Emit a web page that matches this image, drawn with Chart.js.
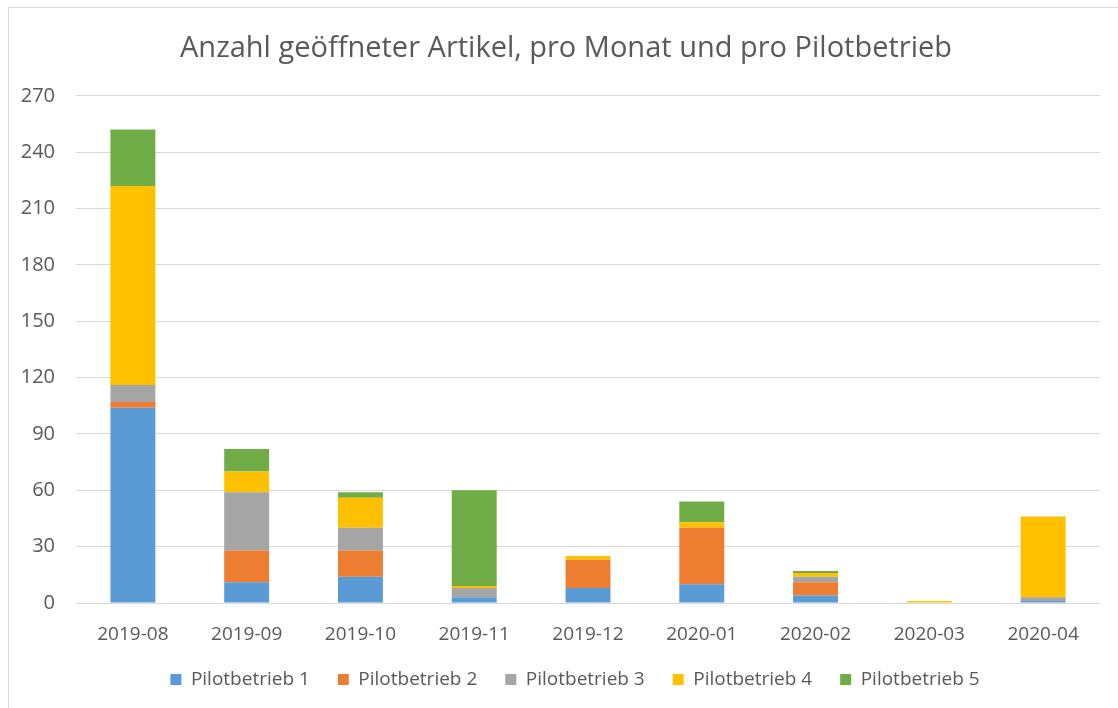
<!DOCTYPE html>
<html>
<head>
<meta charset="utf-8">
<script src="https://cdn.jsdelivr.net/npm/chart.js@4"></script>
<style>
  html, body { margin: 0; padding: 0; background: #ffffff; }
  #wrap { position: relative; width: 1118px; height: 708px; overflow: hidden; }
  #frame { position: absolute; left: 8px; top: 7px; width: 1200px; height: 800px; border: 1px solid #d9d9d9; box-sizing: border-box; }
  canvas { position: absolute; left: 0; top: 0; }
</style>
</head>
<body>
<div id="wrap">
  <div id="frame"></div>
  <canvas id="chart" width="1118" height="708"></canvas>
</div>
<script>
const months = ["2019-08", "2019-09", "2019-10", "2019-11", "2019-12", "2020-01", "2020-02", "2020-03", "2020-04"];
const pilot1 = [104, 11, 14, 3, 8, 10, 4, 0, 1];
const pilot2 = [3, 17, 14, 0, 15, 30, 7, 0, 0];
const pilot3 = [9, 31, 12, 5, 0, 0, 3, 0, 2];
const pilot4 = [106, 11, 16, 1, 2, 3, 2, 1, 43];
const pilot5 = [30, 12, 3, 51, 0, 11, 1, 0, 0];

const textColor = "#595959";
const fontFamily = "'Open Sans', sans-serif";

function series(label, data, color) {
  return {
    label: label,
    data: data,
    backgroundColor: color,
    borderWidth: 0,
    barPercentage: 0.395,
    categoryPercentage: 1
  };
}

// legend items sit wide apart but the block stays short,
// then title and legend are nudged to where the original puts them
const blockPlace = {
  id: "blockPlace",
  afterInit(chart) {
    const legend = chart.legend;
    const fit = legend.fit;
    legend.fit = function () {
      fit.call(this);
      this.height = 40;
    };
  },
  afterLayout(chart) {
    const legend = chart.legend;
    legend.top = 642;
    legend.left += 25;
    legend.right += 25;

    const title = chart.titleBlock;
    title.left += 16;
    title.right += 16;
  }
};

new Chart(document.getElementById("chart"), {
  type: "bar",
  data: {
    labels: months,
    datasets: [
      series("Pilotbetrieb 1", pilot1, "#5b9bd5"),
      series("Pilotbetrieb 2", pilot2, "#ed7d31"),
      series("Pilotbetrieb 3", pilot3, "#a5a5a5"),
      series("Pilotbetrieb 4", pilot4, "#ffc000"),
      series("Pilotbetrieb 5", pilot5, "#70ad47")
    ]
  },
  options: {
    responsive: false,
    animation: false,
    layout: { padding: { left: 0, right: 18, top: 0, bottom: 10 } },
    plugins: {
      title: {
        display: true,
        text: "Anzahl geöffneter Artikel, pro Monat und pro Pilotbetrieb",
        color: textColor,
        font: { family: fontFamily, size: 29, weight: "normal" },
        padding: { top: 31, bottom: 30 }
      },
      legend: {
        position: "bottom",
        labels: {
          color: textColor,
          font: { family: fontFamily, size: 19 },
          boxWidth: 11,
          boxHeight: 11,
          padding: 28
        }
      },
      tooltip: { enabled: false }
    },
    scales: {
      x: {
        stacked: true,
        grid: { display: false, drawTicks: false },
        border: { display: true, color: "#d9d9d9" },
        ticks: {
          color: textColor,
          font: { family: fontFamily, size: 19 },
          padding: 20,
          maxRotation: 0
        },
        afterFit: scale => { scale.height = 55; }
      },
      y: {
        stacked: true,
        min: 0,
        max: 270,
        grid: { color: "#d9d9d9", lineWidth: 1, drawTicks: false },
        border: { display: false },
        ticks: {
          stepSize: 30,
          color: textColor,
          font: { family: fontFamily, size: 20 },
          padding: 21
        },
        afterFit: scale => { scale.width = 76; }
      }
    }
  },
  plugins: [blockPlace]
});
</script>
</body>
</html>
